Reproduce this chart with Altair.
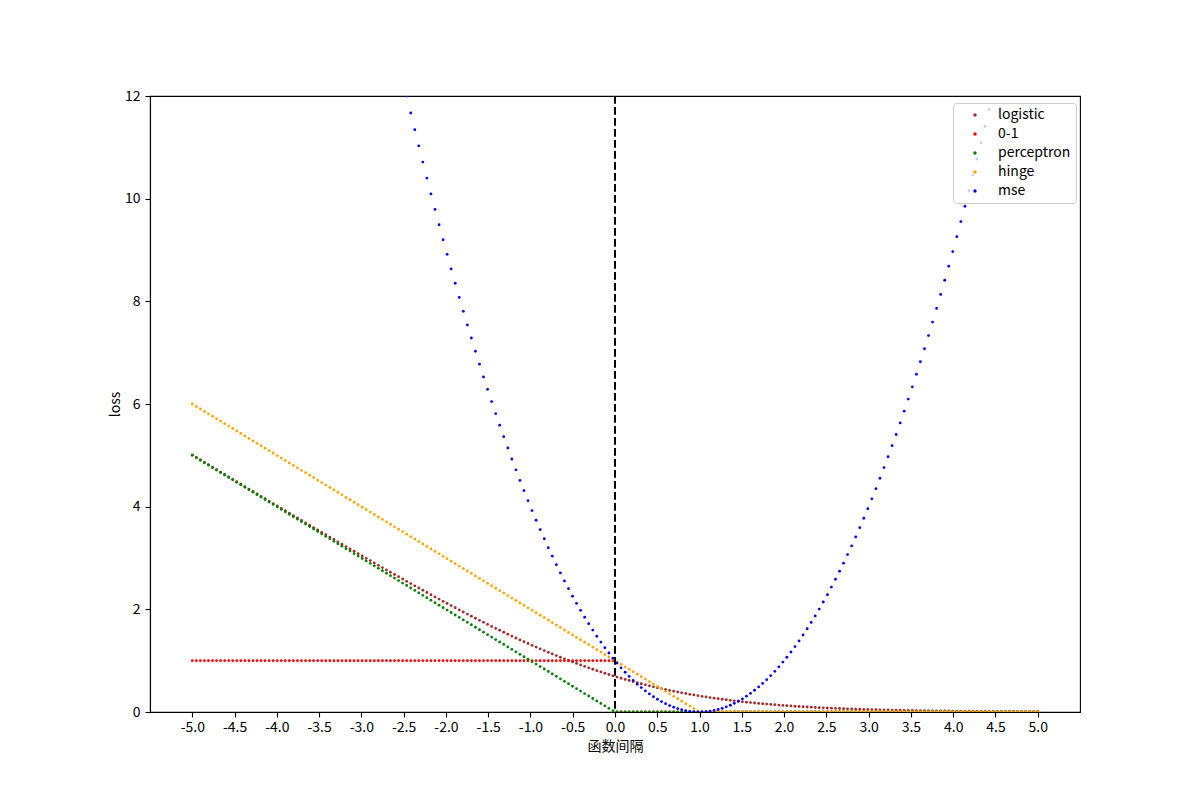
import altair as alt
import pandas as pd

FONT = "Noto Sans CJK SC"

x_values = [
    -5.000, -4.952, -4.904, -4.856, -4.809, -4.761, -4.713, -4.665, -4.617, -4.569,
    -4.522, -4.474, -4.426, -4.378, -4.330, -4.282, -4.234, -4.187, -4.139, -4.091,
    -4.043, -3.995, -3.947, -3.900, -3.852, -3.804, -3.756, -3.708, -3.660, -3.612,
    -3.565, -3.517, -3.469, -3.421, -3.373, -3.325, -3.278, -3.230, -3.182, -3.134,
    -3.086, -3.038, -2.990, -2.943, -2.895, -2.847, -2.799, -2.751, -2.703, -2.656,
    -2.608, -2.560, -2.512, -2.464, -2.416, -2.368, -2.321, -2.273, -2.225, -2.177,
    -2.129, -2.081, -2.033, -1.986, -1.938, -1.890, -1.842, -1.794, -1.746, -1.699,
    -1.651, -1.603, -1.555, -1.507, -1.459, -1.411, -1.364, -1.316, -1.268, -1.220,
    -1.172, -1.124, -1.077, -1.029, -0.981, -0.933, -0.885, -0.837, -0.789, -0.742,
    -0.694, -0.646, -0.598, -0.550, -0.502, -0.455, -0.407, -0.359, -0.311, -0.263,
    -0.215, -0.167, -0.120, -0.072, -0.024,
    0.024, 0.072, 0.120, 0.167, 0.215, 0.263, 0.311, 0.359, 0.407, 0.455,
    0.502, 0.550, 0.598, 0.646, 0.694, 0.742, 0.789, 0.837, 0.885, 0.933,
    0.981, 1.029, 1.077, 1.124, 1.172, 1.220, 1.268, 1.316, 1.364, 1.411,
    1.459, 1.507, 1.555, 1.603, 1.651, 1.699, 1.746, 1.794, 1.842, 1.890,
    1.938, 1.986, 2.033, 2.081, 2.129, 2.177, 2.225, 2.273, 2.321, 2.368,
    2.416, 2.464, 2.512, 2.560, 2.608, 2.656, 2.703, 2.751, 2.799, 2.847,
    2.895, 2.943, 2.990, 3.038, 3.086, 3.134, 3.182, 3.230, 3.278, 3.325,
    3.373, 3.421, 3.469, 3.517, 3.565, 3.612, 3.660, 3.708, 3.756, 3.804,
    3.852, 3.900, 3.947, 3.995, 4.043, 4.091, 4.139, 4.187, 4.234, 4.282,
    4.330, 4.378, 4.426, 4.474, 4.522, 4.569, 4.617, 4.665, 4.713, 4.761,
    4.809, 4.856, 4.904, 4.952, 5.000,
]

logistic = [
    5.007, 4.959, 4.911, 4.864, 4.817, 4.770, 4.722, 4.674, 4.627, 4.579,
    4.533, 4.485, 4.438, 4.390, 4.343, 4.296, 4.248, 4.202, 4.155, 4.108,
    4.060, 4.013, 3.966, 3.920, 3.873, 3.826, 3.779, 3.732, 3.685, 3.639,
    3.593, 3.546, 3.500, 3.453, 3.407, 3.360, 3.315, 3.269, 3.223, 3.177,
    3.131, 3.085, 3.039, 2.994, 2.949, 2.903, 2.858, 2.813, 2.768, 2.724,
    2.679, 2.634, 2.590, 2.546, 2.501, 2.457, 2.415, 2.371, 2.328, 2.284,
    2.241, 2.199, 2.156, 2.115, 2.073, 2.031, 1.989, 1.948, 1.907, 1.867,
    1.827, 1.786, 1.747, 1.707, 1.668, 1.629, 1.592, 1.554, 1.516, 1.479,
    1.442, 1.405, 1.370, 1.335, 1.299, 1.265, 1.230, 1.197, 1.163, 1.132,
    1.099, 1.067, 1.036, 1.005, 0.975, 0.946, 0.917, 0.889, 0.861, 0.833,
    0.806, 0.780, 0.755, 0.730, 0.705,
    0.681, 0.658, 0.635, 0.613, 0.591, 0.570, 0.550, 0.530, 0.510, 0.491,
    0.473, 0.455, 0.438, 0.421, 0.405, 0.390, 0.374, 0.360, 0.345, 0.332,
    0.318, 0.306, 0.293, 0.281, 0.270, 0.259, 0.248, 0.238, 0.228, 0.218,
    0.209, 0.200, 0.192, 0.183, 0.176, 0.168, 0.161, 0.154, 0.147, 0.141,
    0.135, 0.129, 0.123, 0.118, 0.112, 0.107, 0.103, 0.098, 0.094, 0.089,
    0.085, 0.082, 0.078, 0.074, 0.071, 0.068, 0.065, 0.062, 0.059, 0.056,
    0.054, 0.051, 0.049, 0.047, 0.045, 0.043, 0.041, 0.039, 0.037, 0.035,
    0.034, 0.032, 0.031, 0.029, 0.028, 0.027, 0.025, 0.024, 0.023, 0.022,
    0.021, 0.020, 0.019, 0.018, 0.017, 0.017, 0.016, 0.015, 0.014, 0.014,
    0.013, 0.012, 0.012, 0.011, 0.011, 0.010, 0.010, 0.009, 0.009, 0.009,
    0.008, 0.008, 0.007, 0.007, 0.007,
]

zero_one = [
    1, 1, 1, 1, 1, 1, 1, 1, 1, 1, 1, 1, 1, 1, 1, 1, 1, 1, 1, 1, 1,
    1, 1, 1, 1, 1, 1, 1, 1, 1, 1, 1, 1, 1, 1, 1, 1, 1, 1, 1, 1, 1,
    1, 1, 1, 1, 1, 1, 1, 1, 1, 1, 1, 1, 1, 1, 1, 1, 1, 1, 1, 1, 1,
    1, 1, 1, 1, 1, 1, 1, 1, 1, 1, 1, 1, 1, 1, 1, 1, 1, 1, 1, 1, 1,
    1, 1, 1, 1, 1, 1, 1, 1, 1, 1, 1, 1, 1, 1, 1, 1, 1, 1, 1, 1, 1,
    0, 0, 0, 0, 0, 0, 0, 0, 0, 0, 0, 0, 0, 0, 0, 0, 0, 0, 0, 0, 0,
    0, 0, 0, 0, 0, 0, 0, 0, 0, 0, 0, 0, 0, 0, 0, 0, 0, 0, 0, 0, 0,
    0, 0, 0, 0, 0, 0, 0, 0, 0, 0, 0, 0, 0, 0, 0, 0, 0, 0, 0, 0, 0,
    0, 0, 0, 0, 0, 0, 0, 0, 0, 0, 0, 0, 0, 0, 0, 0, 0, 0, 0, 0, 0,
    0, 0, 0, 0, 0, 0, 0, 0, 0, 0, 0, 0, 0, 0, 0, 0, 0, 0, 0, 0, 0,
]

perceptron = [
    5.000, 4.952, 4.904, 4.856, 4.809, 4.761, 4.713, 4.665, 4.617, 4.569,
    4.522, 4.474, 4.426, 4.378, 4.330, 4.282, 4.234, 4.187, 4.139, 4.091,
    4.043, 3.995, 3.947, 3.900, 3.852, 3.804, 3.756, 3.708, 3.660, 3.612,
    3.565, 3.517, 3.469, 3.421, 3.373, 3.325, 3.278, 3.230, 3.182, 3.134,
    3.086, 3.038, 2.990, 2.943, 2.895, 2.847, 2.799, 2.751, 2.703, 2.656,
    2.608, 2.560, 2.512, 2.464, 2.416, 2.368, 2.321, 2.273, 2.225, 2.177,
    2.129, 2.081, 2.033, 1.986, 1.938, 1.890, 1.842, 1.794, 1.746, 1.699,
    1.651, 1.603, 1.555, 1.507, 1.459, 1.411, 1.364, 1.316, 1.268, 1.220,
    1.172, 1.124, 1.077, 1.029, 0.981, 0.933, 0.885, 0.837, 0.789, 0.742,
    0.694, 0.646, 0.598, 0.550, 0.502, 0.455, 0.407, 0.359, 0.311, 0.263,
    0.215, 0.167, 0.120, 0.072, 0.024,
    0, 0, 0, 0, 0, 0, 0, 0, 0, 0, 0, 0, 0, 0, 0, 0, 0, 0, 0, 0, 0,
    0, 0, 0, 0, 0, 0, 0, 0, 0, 0, 0, 0, 0, 0, 0, 0, 0, 0, 0, 0, 0,
    0, 0, 0, 0, 0, 0, 0, 0, 0, 0, 0, 0, 0, 0, 0, 0, 0, 0, 0, 0, 0,
    0, 0, 0, 0, 0, 0, 0, 0, 0, 0, 0, 0, 0, 0, 0, 0, 0, 0, 0, 0, 0,
    0, 0, 0, 0, 0, 0, 0, 0, 0, 0, 0, 0, 0, 0, 0, 0, 0, 0, 0, 0, 0,
]

hinge = [
    6.000, 5.952, 5.904, 5.856, 5.809, 5.761, 5.713, 5.665, 5.617, 5.569,
    5.522, 5.474, 5.426, 5.378, 5.330, 5.282, 5.234, 5.187, 5.139, 5.091,
    5.043, 4.995, 4.947, 4.900, 4.852, 4.804, 4.756, 4.708, 4.660, 4.612,
    4.565, 4.517, 4.469, 4.421, 4.373, 4.325, 4.278, 4.230, 4.182, 4.134,
    4.086, 4.038, 3.990, 3.943, 3.895, 3.847, 3.799, 3.751, 3.703, 3.656,
    3.608, 3.560, 3.512, 3.464, 3.416, 3.368, 3.321, 3.273, 3.225, 3.177,
    3.129, 3.081, 3.033, 2.986, 2.938, 2.890, 2.842, 2.794, 2.746, 2.699,
    2.651, 2.603, 2.555, 2.507, 2.459, 2.411, 2.364, 2.316, 2.268, 2.220,
    2.172, 2.124, 2.077, 2.029, 1.981, 1.933, 1.885, 1.837, 1.789, 1.742,
    1.694, 1.646, 1.598, 1.550, 1.502, 1.455, 1.407, 1.359, 1.311, 1.263,
    1.215, 1.167, 1.120, 1.072, 1.024,
    0.976, 0.928, 0.880, 0.833, 0.785, 0.737, 0.689, 0.641, 0.593, 0.545,
    0.498, 0.450, 0.402, 0.354, 0.306, 0.258, 0.211, 0.163, 0.115, 0.067,
    0.019,
    0, 0, 0, 0, 0, 0, 0, 0, 0, 0, 0, 0, 0, 0, 0, 0, 0, 0, 0, 0, 0,
    0, 0, 0, 0, 0, 0, 0, 0, 0, 0, 0, 0, 0, 0, 0, 0, 0, 0, 0, 0, 0,
    0, 0, 0, 0, 0, 0, 0, 0, 0, 0, 0, 0, 0, 0, 0, 0, 0, 0, 0, 0, 0,
    0, 0, 0, 0, 0, 0, 0, 0, 0, 0, 0, 0, 0, 0, 0, 0, 0, 0, 0, 0, 0,
]

# None = point lies above the top of the plot (loss > 12), so not visible
mse = [
    None, None, None, None, None, None, None, None, None, None,
    None, None, None, None, None, None, None, None, None, None,
    None, None, None, None, None, None, None, None, None, None,
    None, None, None, None, None, None, None, None, None, None,
    None, None, None, None, None, None, None, None, None, None,
    None, None, None,
    12.000, 11.669, 11.343, 11.029, 10.713, 10.401, 10.093, 9.791, 9.493, 9.199,
    8.916, 8.632, 8.352, 8.077, 7.806, 7.541, 7.285, 7.028, 6.776, 6.528,
    6.285, 6.047, 5.813, 5.588, 5.364, 5.144, 4.928, 4.718, 4.511, 4.314,
    4.117, 3.924, 3.736, 3.553, 3.375, 3.201, 3.035, 2.870, 2.709, 2.554,
    2.403, 2.256, 2.117, 1.980, 1.847, 1.719, 1.595, 1.476, 1.362, 1.254,
    1.149, 1.049,
    0.953, 0.861, 0.774, 0.694, 0.616, 0.543, 0.475, 0.411, 0.352, 0.297,
    0.248, 0.203, 0.162, 0.125, 0.094, 0.067, 0.045, 0.027, 0.013, 0.004,
    0.000, 0.001, 0.006, 0.015, 0.030, 0.048, 0.072, 0.100, 0.132, 0.169,
    0.211, 0.257, 0.308, 0.364, 0.424, 0.489, 0.557, 0.630, 0.709, 0.792,
    0.880, 0.972, 1.067, 1.169, 1.275, 1.385, 1.501, 1.621, 1.745, 1.871,
    2.005, 2.143, 2.286, 2.434, 2.586, 2.742, 2.900, 3.066, 3.236, 3.411,
    3.591, 3.775, 3.960, 4.153, 4.351, 4.554, 4.761, 4.973, 5.189, 5.406,
    5.631, 5.861, 6.096, 6.335, 6.579, 6.823, 7.076, 7.333, 7.596, 7.862,
    8.134, 8.410, 8.685, 8.970, 9.260, 9.554, 9.853, 10.157, 10.459, 10.772,
    11.089, 11.411, 11.737,
    None, None, None, None, None, None, None, None, None, None, None, None,
]

series_names = ["logistic", "0-1", "perceptron", "hinge", "mse"]
series_colors = ["brown", "red", "green", "orange", "blue"]
x_ticks = [-5.0, -4.5, -4.0, -3.5, -3.0, -2.5, -2.0, -1.5, -1.0, -0.5, 0.0,
           0.5, 1.0, 1.5, 2.0, 2.5, 3.0, 3.5, 4.0, 4.5, 5.0]
y_ticks = [0, 2, 4, 6, 8, 10, 12]
x_domain = [-5.5, 5.5]
y_domain = [0, 12]
vline_x = [0.0]

rows = []
for name, ys in zip(series_names, [logistic, zero_one, perceptron, hinge, mse]):
    for xv, yv in zip(x_values, ys):
        if yv is not None:
            rows.append({"x": xv, "loss": yv, "series": name})
df = pd.DataFrame(rows)

x_scale = alt.Scale(domain=x_domain, nice=False, zero=False)
y_scale = alt.Scale(domain=y_domain, nice=False, zero=False)

points = alt.Chart(df).mark_circle(size=8, opacity=1, clip=True).encode(
    x=alt.X("x:Q", scale=x_scale,
            axis=alt.Axis(values=x_ticks, title="函数间隔",
                          labelExpr="replace(format(datum.value, '.1f'), '\u2212', '-')",
                          labelOverlap=False, labelFlush=False,
                          labelPadding=3, titlePadding=5)),
    y=alt.Y("loss:Q", scale=y_scale,
            axis=alt.Axis(values=y_ticks, title="loss", format="d", titlePadding=2)),
    color=alt.Color("series:N",
                    scale=alt.Scale(domain=series_names, range=series_colors),
                    legend=alt.Legend(title=None, orient="none", legendX=803, legendY=7)),
)

rule = alt.Chart(pd.DataFrame({"x": vline_x})).mark_rule(
    color="black", strokeWidth=2, strokeDash=[7.7, 3.3]
).encode(x=alt.X("x:Q", scale=x_scale))

chart = alt.layer(points, rule).properties(
    width=930, height=616,
    padding={"left": 142, "top": 88, "right": 100, "bottom": 80},
    autosize=alt.AutoSizeParams(type="none"),
).configure_view(
    stroke="black", strokeWidth=1.1
).configure_axis(
    domainColor="black", domainWidth=1.1, tickColor="black", tickWidth=1.1,
    tickSize=5, labelFont=FONT, labelFontSize=14, labelColor="black",
    labelPadding=5, titleFont=FONT, titleFontSize=14, titleFontWeight="normal",
    titleColor="black", grid=False,
).configure_legend(
    padding=5, fillColor="rgba(255,255,255,0.8)", strokeColor="#cccccc",
    cornerRadius=3, labelFont=FONT, labelFontSize=14, labelColor="black",
    symbolSize=12, symbolOffset=10, labelOffset=16, rowPadding=5,
    symbolType="circle", symbolStrokeWidth=0,
)

chart.save("out.html", embed_options={"renderer": "svg", "actions": False})
